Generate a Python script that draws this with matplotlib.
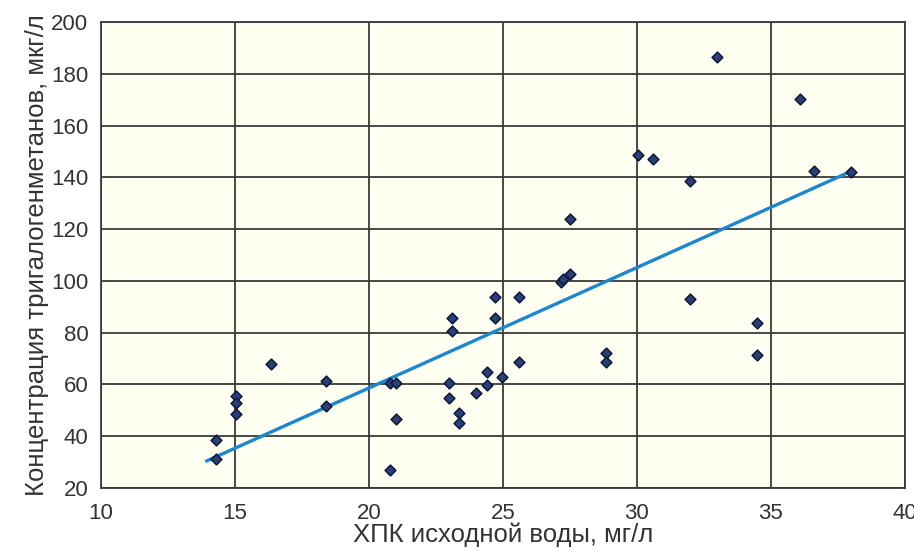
import matplotlib.pyplot as plt

# ХПК исходной воды (мг/л) и концентрация ТГМ (мкг/л)
cod = [14.3, 14.3, 15.05, 15.05, 15.05, 16.35, 18.4, 18.4, 20.8, 21.0, 21.0, 20.8,
       23.1, 23.1, 23.0, 23.0, 23.35, 23.35, 24.0, 24.4, 24.4, 24.7, 24.7, 24.95,
       25.6, 25.6, 27.15, 27.25, 27.5, 27.5, 28.85, 28.85, 30.05, 30.6, 32.0, 32.0,
       33.0, 34.5, 34.5, 36.1, 36.6, 38.0]
thm = [38.5, 31.2, 55.6, 52.7, 48.5, 67.8, 61.4, 51.8, 60.4, 60.4, 46.6, 27.0,
       85.8, 80.8, 60.4, 54.9, 48.9, 45.0, 56.8, 64.9, 59.8, 93.9, 85.5, 63.0,
       93.9, 68.8, 99.5, 100.8, 102.7, 123.8, 72.0, 68.8, 148.6, 147.0, 138.7, 92.9,
       186.6, 83.6, 71.4, 170.2, 142.6, 142.0]

# линия тренда (концы)
trend_x = [13.95, 37.85]
trend_y = [30.5, 141.7]

x_ticks = [10, 15, 20, 25, 30, 35, 40]
y_ticks = [20, 40, 60, 80, 100, 120, 140, 160, 180, 200]

plt.rcParams['font.family'] = ['Liberation Sans', 'DejaVu Sans']

fig = plt.figure(figsize=(9.14, 5.53), dpi=100)
ax = fig.add_axes([0.1105, 0.1175, 0.8795, 0.8425])
ax.set_facecolor('#fffff2')

ax.plot(trend_x, trend_y, color='#1b87d4', lw=2.4, zorder=3)
ax.scatter(cod, thm, marker='D', s=30, color='#2a3f78', edgecolors='#0d1838',
           linewidths=1.1, zorder=4)

ax.set_xlim(10, 40)
ax.set_ylim(20, 200)
ax.set_xticks(x_ticks)
ax.set_yticks(y_ticks)
ax.grid(True, color='#3a3a3a', lw=1.3, zorder=1)
ax.set_axisbelow(True)
for s in ax.spines.values():
    s.set_color('#3a3a3a')
    s.set_linewidth(1.3)
ax.tick_params(length=0, labelsize=16, labelcolor='#333333')
ax.tick_params(axis='x', pad=11)
ax.tick_params(axis='y', pad=9)

ax.set_xlabel('ХПК исходной воды, мг/л', fontsize=18.5, color='#333333', labelpad=-1)
ax.set_ylabel('Концентрация тригалогенметанов, мкг/л', fontsize=18.5, color='#333333',
              labelpad=1.5)

fig.savefig('out.png', dpi=100)
